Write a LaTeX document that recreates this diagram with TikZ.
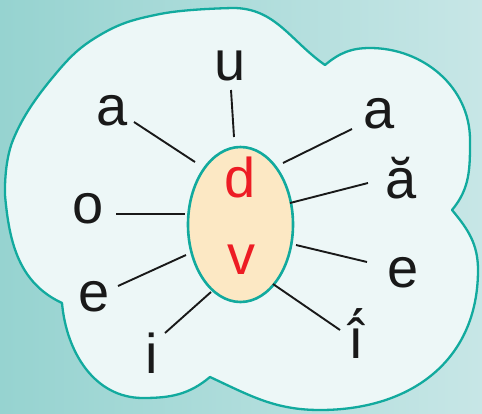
\documentclass[tikz,border=0pt]{standalone}
\usepackage{fontspec}
\setmainfont{Liberation Sans}
\usetikzlibrary{shapes.geometric}
\definecolor{bgL}{RGB}{150,211,208}
\definecolor{bgR}{RGB}{199,230,230}
\definecolor{cloudfill}{RGB}{237,247,247}
\definecolor{teal}{RGB}{18,170,158}
\definecolor{peach}{RGB}{252,232,196}
\definecolor{redl}{RGB}{237,28,36}
\tikzset{
  lett/.style={anchor=base,inner sep=0pt,font=\fontsize{56}{56}\selectfont,text=black!90},
  cons/.style={lett,text=redl},
  spoke/.style={line width=1.9pt,black!90},
}
\begin{document}
\begin{tikzpicture}[x=1pt,y=1pt]
\shade[left color=bgL,right color=bgR] (0,0) rectangle (482,-413);
\useasboundingbox (0,0) rectangle (482,-413);
% cloud
\draw[teal,line width=2.3pt,fill=cloudfill,line join=round]
  (325,-65) to[out=40,in=180] (370,-48)
  to[out=0,in=90] (470,-140)
  to[out=-90,in=50] (452,-210)
  to[out=-50,in=90] (478,-270)
  to[out=-90,in=0,looseness=1.1] (320,-410)
  to[out=180,in=-25] (210,-377)
  to[out=-140,in=0] (143,-398)
  to[out=180,in=-85] (62,-303)
  to[out=155,in=-85] (5,-195)
  -- plot[smooth,tension=0.7] coordinates {(5,-195) (13,-140) (53,-77) (100,-35) (160,-14) (233,-8)}
  to[out=0,in=145] (325,-65) -- cycle;
% centre ellipse
\node[ellipse,draw=teal,line width=2.6pt,fill=peach,minimum width=105pt,minimum height=155pt,inner sep=0pt] (E) at (240.5,-224.5) {};
\node[cons] (d) at (240,-197) {d};
\node[cons] (v) at (241,-274) {v};
% letters
\node[lett] (u) at (230,-80) {u};
\node[lett] (aL) at (112,-125) {a};
\node[lett] (aR) at (379,-128) {a};
\node[lett] (ab) at (401,-198) {ă};
\node[lett] (o) at (88,-223) {o};
\node[lett] (eL) at (94,-311) {e};
\node[lett] (eR) at (403,-287) {e};
\node[lett] (i) at (152,-373) {i};
\node[lett] (ii) at (356,-358) {î́};
% spoke ends
\coordinate (u1) at (231,-90);   \coordinate (u2) at (234,-137);
\coordinate (aL1) at (134,-122); \coordinate (aL2) at (195,-162);
\coordinate (aR1) at (352,-129); \coordinate (aR2) at (283,-163);
\coordinate (ab1) at (368,-183); \coordinate (ab2) at (290,-203);
\coordinate (o1) at (116,-214);  \coordinate (o2) at (185,-214);
\coordinate (eL1) at (118,-286); \coordinate (eL2) at (186,-255);
\coordinate (eR1) at (367,-262); \coordinate (eR2) at (296,-245);
\coordinate (i1) at (165,-333);  \coordinate (i2) at (211,-292);
\coordinate (ii1) at (340,-330); \coordinate (ii2) at (273,-284);
\foreach \n in {u,aL,aR,ab,o,eL,eR,i,ii}{\draw[spoke] (\n1) -- (\n2);}
\end{tikzpicture}
\end{document}
